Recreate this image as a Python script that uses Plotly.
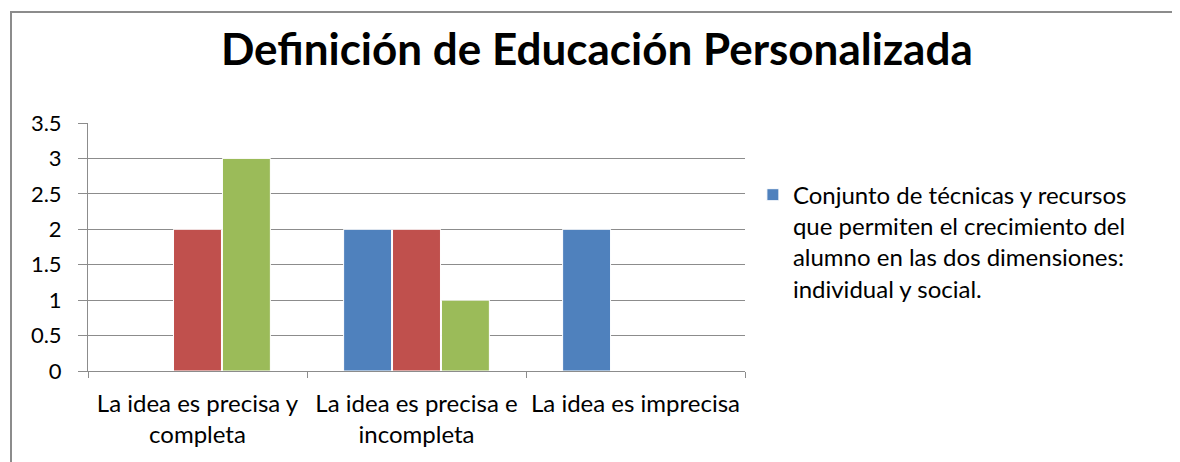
import plotly.graph_objects as go

categorias = ["La idea es precisa y<br>completa",
              "La idea es precisa e<br>incompleta",
              "La idea es imprecisa"]
serie_azul = [0, 2, 2]
serie_roja = [2, 2, 0]
serie_verde = [3, 1, 0]
nombre_azul = ("Conjunto de técnicas y recursos<br>que permiten el crecimiento del<br>"
               "alumno en las dos dimensiones:<br>individual y social.")

fuente = "Lato, Calibri, Carlito, sans-serif"
gris = "#8C8C8C"

fig = go.Figure()
fig.add_trace(go.Bar(x=categorias, y=serie_azul, name=nombre_azul,
                     marker=dict(color="#4F81BD", line=dict(color="white", width=1))))
fig.add_trace(go.Bar(x=categorias, y=serie_roja, name="Serie 2", showlegend=False,
                     marker=dict(color="#C0504D", line=dict(color="white", width=1))))
fig.add_trace(go.Bar(x=categorias, y=serie_verde, name="Serie 3", showlegend=False,
                     marker=dict(color="#9BBB59", line=dict(color="white", width=1))))

# page has an 8px body offset; plot area in page px: x 88..745, y 123..371
fig.update_layout(
    width=1180, height=462,
    margin=dict(l=80, r=443, t=115, b=99, autoexpand=False),
    paper_bgcolor="white", plot_bgcolor="white",
    font=dict(family=fuente, size=24, color="black"),
    title=dict(text="<b>Definición de Educación Personalizada</b>",
               x=0.499, xanchor="center", y=0.91, yanchor="middle",
               font=dict(family=fuente, size=44, color="black")),
    barmode="group", bargap=0.33, bargroupgap=0.02,
    showlegend=True,
    legend=dict(x=1.012, y=0.80, xanchor="left", yanchor="top", valign="top",
                font=dict(family=fuente, size=24, color="black"),
                itemwidth=30, tracegroupgap=0),
    shapes=[dict(type="rect", xref="paper", yref="paper",
                 x0=(3 - 80) / 657, x1=1.8, y0=-1, y1=(363 - 4) / 248,
                 line=dict(color=gris, width=2), layer="below")],
)
fig.update_yaxes(range=[0, 3.5], dtick=0.5, showgrid=True, gridcolor=gris,
                 gridwidth=1, showline=True, linecolor=gris, linewidth=1,
                 ticks="outside", ticklen=9, tickcolor=gris, zeroline=False,
                 automargin=False, tickfont=dict(size=22), ticklabelstandoff=12)
fig.update_xaxes(showline=True, linecolor=gris, linewidth=1,
                 ticks="outside", ticklen=6, tickcolor=gris,
                 tickson="boundaries", showgrid=False, automargin=False,
                 tickangle=0, tickfont=dict(size=24), ticklabelstandoff=11)

fig.write_html("out.html")
